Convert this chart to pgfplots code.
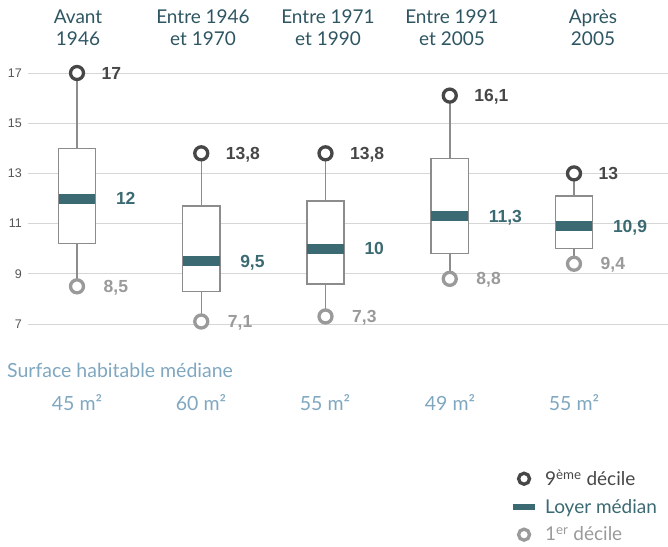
\documentclass[border=0pt]{standalone}
\usepackage{pgfplots}
\pgfplotsset{compat=1.18}
\usepackage{fontspec}
\setmainfont{Lato}
\newfontfamily\arialf{Liberation Sans}

\definecolor{titlec}{HTML}{2E5662}
\definecolor{medc}{HTML}{3B6A72}
\definecolor{darkc}{HTML}{474747}
\definecolor{lightc}{HTML}{9A9A9A}
\definecolor{boxc}{HTML}{8C8C8C}
\definecolor{gridc}{HTML}{D6D6D6}
\definecolor{surfc}{HTML}{7FA7C0}
\definecolor{tickc}{HTML}{555555}

\pgfplotsset{
  whisk/.style={forget plot, draw=boxc, line width=1.5pt},
  bx/.style={forget plot, draw=boxc, fill=white, line width=1.5pt},
}

\begin{document}
\begin{tikzpicture}
\begin{axis}[
  scale only axis,
  width=640pt, height=251pt,
  xmin=-0.3944, xmax=4.7566,
  ymin=7, ymax=17,
  xtick=\empty,
  ytick={7,9,11,13,15,17},
  ymajorgrids,
  grid style={gridc, line width=1pt},
  axis line style={draw=none},
  tick style={draw=none},
  /pgf/number format/assume math mode=true,
  yticklabel style={font=\fontsize{12.5}{14}\arialf, text=tickc, anchor=east, inner sep=0pt, xshift=-6pt},
  clip=false,
  legend style={at={(0.748,-0.565)}, anchor=north west, draw=none, fill=none,
    row sep=8pt, font=\fontsize{19}{22}\selectfont,
    /tikz/every odd column/.append style={column sep=5pt}},
  legend cell align=left,
]
% whiskers (1er decile to 9e decile)
\addplot[whisk] coordinates {(0,8.5) (0,17)};
\addplot[whisk] coordinates {(1,7.1) (1,13.8)};
\addplot[whisk] coordinates {(2,7.3) (2,13.8)};
\addplot[whisk] coordinates {(3,8.8) (3,16.1)};
\addplot[whisk] coordinates {(4,9.4) (4,13)};
% boxes (1er quartile to 3e quartile)
\addplot[bx] coordinates {(-0.15,10.2) (0.15,10.2) (0.15,14) (-0.15,14)} -- cycle;
\addplot[bx] coordinates {(0.85,8.3) (1.15,8.3) (1.15,11.7) (0.85,11.7)} -- cycle;
\addplot[bx] coordinates {(1.85,8.6) (2.15,8.6) (2.15,11.9) (1.85,11.9)} -- cycle;
\addplot[bx] coordinates {(2.85,9.8) (3.15,9.8) (3.15,13.6) (2.85,13.6)} -- cycle;
\addplot[bx] coordinates {(3.85,10.0) (4.15,10.0) (4.15,12.1) (3.85,12.1)} -- cycle;

% 9e decile
\addplot[only marks, mark=*, mark size=6.5pt,
  mark options={draw=darkc, fill=white, line width=3.3pt},
  point meta=explicit symbolic,
  nodes near coords={\pgfplotspointmeta},
  nodes near coords style={anchor=west, xshift=23pt, inner sep=0pt, text depth=0pt,
    font=\fontsize{17.5}{20}\arialf\bfseries, text=darkc},
  legend image code/.code={\draw[line width=3.3pt, draw=darkc, fill=white] (0.3cm,0cm) circle (5.5pt);}]
  coordinates {(0,17) [17] (1,13.8) [{13,8}] (2,13.8) [{13,8}] (3,16.1) [{16,1}] (4,13) [13]};
\addlegendentry{\textcolor{darkc}{9\textsuperscript{ème} décile}}

% loyer median
\addplot[only marks, mark=-, mark size=18.3pt,
  mark options={draw=medc, line width=10pt},
  point meta=explicit symbolic,
  nodes near coords={\pgfplotspointmeta},
  nodes near coords style={anchor=west, xshift=34pt, inner sep=0pt, text depth=0pt,
    font=\fontsize{17.5}{20}\arialf\bfseries, text=medc},
  legend image code/.code={\draw[line width=5.5pt, draw=medc] (-0.1cm,0cm) -- (0.7cm,0cm);}]
  coordinates {(0,12) [12] (1,9.5) [{9,5}] (2,10) [10] (3,11.3) [{11,3}] (4,10.9) [{10,9}]};
\addlegendentry{\textcolor{medc}{Loyer médian}}

% 1er decile
\addplot[only marks, mark=*, mark size=6.5pt,
  mark options={draw=lightc, fill=white, line width=3.3pt},
  point meta=explicit symbolic,
  nodes near coords={\pgfplotspointmeta},
  nodes near coords style={anchor=west, xshift=25pt, inner sep=0pt, text depth=0pt,
    font=\fontsize{17.5}{20}\arialf\bfseries, text=lightc},
  legend image code/.code={\draw[line width=3.3pt, draw=lightc, fill=white] (0.3cm,0cm) circle (5.5pt);}]
  coordinates {(0,8.5) [{8,5}] (1,7.1) [{7,1}] (2,7.3) [{7,3}] (3,8.8) [{8,8}] (4,9.4) [{9,4}]};
\addlegendentry{\textcolor{lightc}{1\textsuperscript{er} décile}}
\end{axis}

% titles (1pt = 1px; origin at pixel (28,324))
\begin{scope}[every node/.style={font=\fontsize{19}{22}\selectfont, text=titlec, anchor=base, inner sep=0pt}]
\node at (50pt,300pt) {Avant};
\node at (50pt,278.3pt) {1946};
\node at (175pt,300pt) {Entre 1946};
\node at (175pt,278.3pt) {et 1970};
\node at (300pt,300pt) {Entre 1971};
\node at (300pt,278.3pt) {et 1990};
\node at (424pt,300pt) {Entre 1991};
\node at (424pt,278.3pt) {et 2005};
\node at (565pt,300pt) {Après};
\node at (565pt,278.3pt) {2005};
\end{scope}

\begin{scope}[every node/.style={font=\fontsize{19.5}{22}\selectfont, text=surfc, inner sep=0pt}]
\node[anchor=base west] at (-21pt,-53pt) {Surface habitable médiane};
\node[anchor=base] at (49pt,-86.7pt) {45 m²};
\node[anchor=base] at (173pt,-86.7pt) {60 m²};
\node[anchor=base] at (297pt,-86.7pt) {55 m²};
\node[anchor=base] at (422pt,-86.7pt) {49 m²};
\node[anchor=base] at (546pt,-86.7pt) {55 m²};
\end{scope}

\pgfresetboundingbox
\path[use as bounding box] (-28pt,-222pt) rectangle (640pt,324pt);
\end{tikzpicture}
\end{document}
